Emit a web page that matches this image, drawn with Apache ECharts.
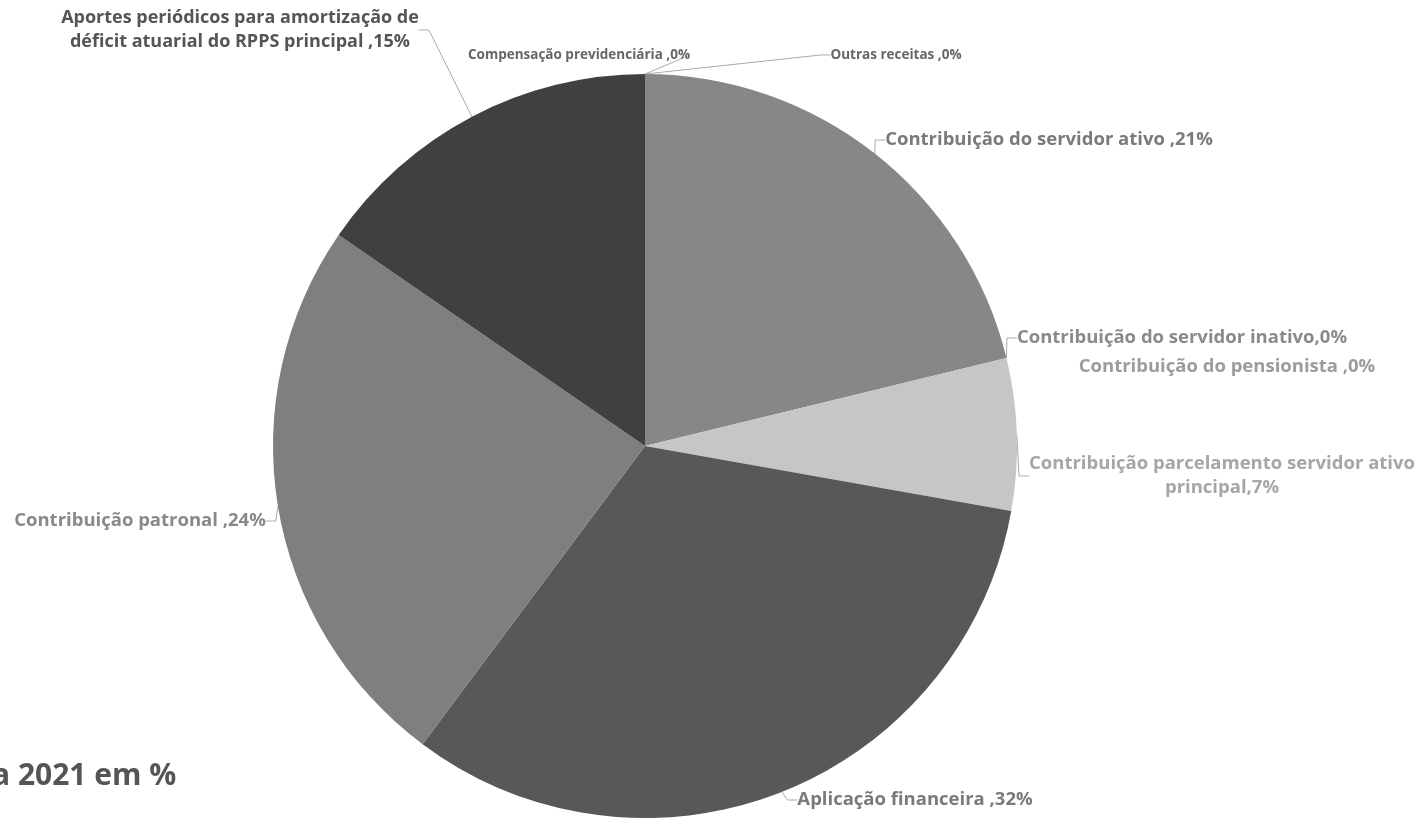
<!DOCTYPE html>
<html>
<head>
<meta charset="utf-8">
<script src="https://cdn.jsdelivr.net/npm/echarts@6/dist/echarts.min.js"></script>
<style>
  html, body { margin: 0; padding: 0; background: #fff; }
  #main { width: 1424px; height: 819px; }
</style>
</head>
<body>
<div id="main"></div>
<script>
// categorias (ordem horaria a partir das 12h)
const categorias = [
  'Compensação previdenciária',
  'Outras receitas',
  'Contribuição do servidor ativo',
  'Contribuição do servidor inativo',
  'Contribuição do pensionista',
  'Contribuição parcelamento servidor ativo\nprincipal',
  'Aplicação financeira',
  'Contribuição patronal',
  'Aportes periódicos para amortização de\ndéficit atuarial do RPPS principal'
]
// valores em %
const valores = [0, 0, 21.2, 0, 0, 6.6, 32.4, 24.4, 15.4]
// separador antes do percentual, como no original
const separadores = [' ,', ' ,', ' ,', ',', ' ,', ',', ' ,', ' ,', ' ,']

const cores = ['#6a6a6a', '#8a8a8a', '#878787', '#9a9a9a', '#b0b0b0', '#c6c6c6', '#585858', '#7f7f7f', '#404040']
const coresTexto = ['#666', '#666', '#7a7a7a', '#8a8a8a', '#9c9c9c', '#a6a6a6', '#7a7a7a', '#888', '#555']
const tamanhosTexto = [13.5, 13.5, 18.5, 18.5, 18.5, 18.5, 18.5, 18.5, 18]
// centro de cada rotulo (px)
const posRotulos = [
  [579, 55], [896, 55], [1049, 140], [1182, 338], [1227, 367],
  [1222, 476], [915, 800], [140, 521], [240, 30]
]

const chart = echarts.init(document.getElementById('main'))

let dados = []
for (let i = 0; i < categorias.length; i++) {
  dados.push({
    name: categorias[i],
    value: valores[i],
    itemStyle: { color: cores[i] },
    label: { color: coresTexto[i], fontSize: tamanhosTexto[i] },
    labelLine: { show: i !== 4 }
  })
}

const option = {
  animation: false,
  graphic: [{
    type: 'text',
    left: -8,
    top: 761,
    style: {
      text: 'a 2021 em %',
      font: 'bold 30px "Open Sans"',
      fill: '#555'
    }
  }],
  series: [{
    type: 'pie',
    center: [645, 446],
    radius: 372,
    startAngle: 90,
    clockwise: true,
    avoidLabelOverlap: false,
    minShowLabelAngle: 0,
    itemStyle: { borderWidth: 0 },
    label: {
      show: true,
      position: 'outside',
      fontFamily: 'Open Sans',
      fontWeight: 'bold',
      lineHeight: 24,
      align: 'center',
      formatter: function (p) {
        return p.name + separadores[p.dataIndex] + Math.round(p.value) + '%'
      }
    },
    labelLine: {
      show: true,
      length: 10,
      length2: 10,
      lineStyle: { color: '#aaa', width: 1 }
    },
    labelLayout: function (params) {
      const pos = posRotulos[params.dataIndex]
      return {
        x: pos[0],
        y: pos[1],
        align: 'center',
        verticalAlign: 'middle'
      }
    },
    data: dados
  }]
}

chart.setOption(option)
</script>
</body>
</html>
